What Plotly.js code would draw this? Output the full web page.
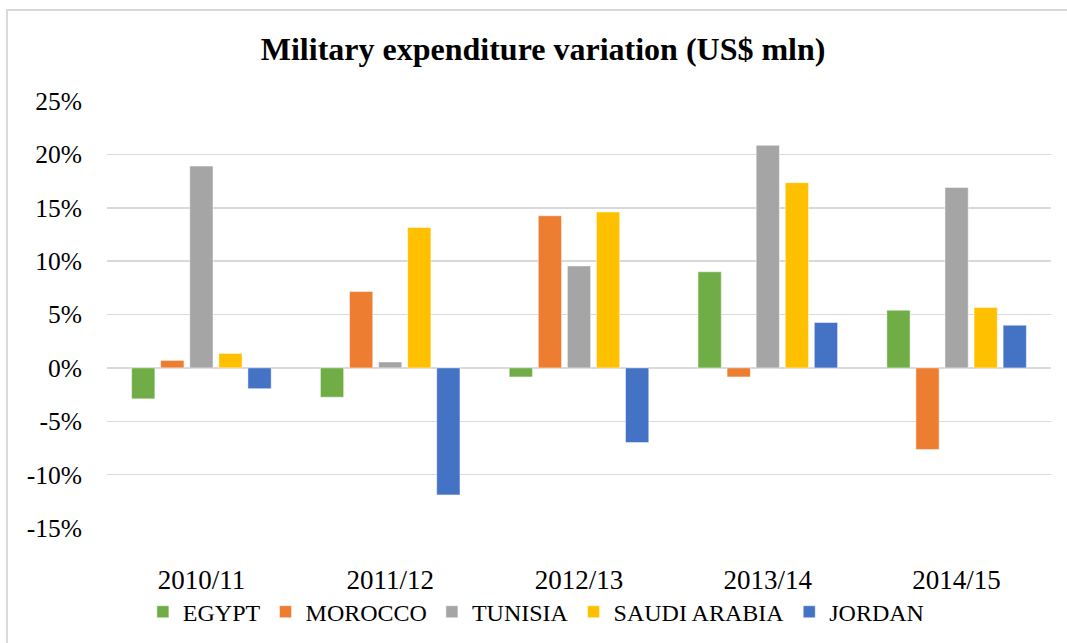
<!DOCTYPE html>
<html>
<head>
<meta charset="utf-8">
<script src="https://cdn.plot.ly/plotly-3.0.1.min.js"></script>
<style>
  html, body { margin: 0; padding: 0; background: #ffffff; }
  #chart { width: 1067px; height: 643px; }
</style>
</head>
<body>
<div id="chart"></div>
<script>
// Categories (periods)
const periods = ["2010/11", "2011/12", "2012/13", "2013/14", "2014/15"];

// Series values (percent variation)
const egypt       = [-2.9, -2.75, -0.85, 9.0, 5.4];
const morocco     = [0.7, 7.15, 14.25, -0.85, -7.65];
const tunisia     = [18.9, 0.55, 9.55, 20.85, 16.9];
const saudiArabia = [1.35, 13.15, 14.6, 17.35, 5.65];
const jordan      = [-1.95, -11.9, -7.0, 4.25, 4.0];

// Series names
const seriesNames = ["EGYPT", "MOROCCO", "TUNISIA", "SAUDI ARABIA", "JORDAN"];

// Y-axis ticks
const yTickVals = [-15, -10, -5, 0, 5, 10, 15, 20, 25];
const yTickText = ["-15%", "-10%", "-5%", "0%", "5%", "10%", "15%", "20%", "25%"];

const colors = ["#70AD47", "#ED7D31", "#A5A5A5", "#FFC000", "#4472C4"];
const seriesValues = [egypt, morocco, tunisia, saudiArabia, jordan];

const FONT = "Liberation Serif, Times New Roman, serif";

const traces = seriesValues.map((vals, i) => ({
  type: "bar",
  name: seriesNames[i],
  x: periods,
  y: vals,
  marker: { color: colors[i], line: { color: "rgba(255,255,255,0.6)", width: 0.8 } },
  hoverinfo: "x+y+name"
}));

const layout = {
  width: 1067,
  height: 643,
  paper_bgcolor: "#ffffff",
  plot_bgcolor: "#ffffff",
  margin: { l: 107, r: 16, t: 101, b: 115, autoexpand: false },
  font: { family: FONT, color: "#000000", size: 24 },
  title: {
    text: "<b>Military expenditure variation (US$ mln)</b>",
    font: { family: FONT, size: 32, color: "#000000" },
    x: 0.509, xref: "container", xanchor: "center",
    y: 0.924, yref: "container", yanchor: "middle"
  },
  barmode: "group",
  bargap: 0.23,
  bargroupgap: 0.2,
  xaxis: {
    type: "category",
    showgrid: false,
    showline: false,
    zeroline: false,
    ticks: "",
    automargin: false,
    tickfont: { family: FONT, size: 27, color: "#000000" },
    ticklabelstandoff: 33
  },
  yaxis: {
    range: [-15, 25],
    tickvals: yTickVals,
    ticktext: yTickText,
    showgrid: true,
    gridcolor: "#D9D9D9",
    gridwidth: 1.5,
    zeroline: true,
    zerolinecolor: "#D9D9D9",
    zerolinewidth: 1.5,
    showline: false,
    ticks: "",
    automargin: false,
    tickfont: { family: FONT, size: 25.5, color: "#000000" },
    ticklabelstandoff: 24
  },
  showlegend: true,
  legend: {
    orientation: "h",
    x: 0.038, xanchor: "left",
    y: -0.197, yanchor: "middle",
    bgcolor: "rgba(0,0,0,0)",
    font: { family: FONT, size: 24, color: "#000000" },
    traceorder: "normal",
    itemwidth: 30
  },
  shapes: [{
    type: "rect",
    xref: "paper", yref: "paper",
    x0: -0.106, x1: 1.03,
    y0: -0.30, y1: 1.213,
    line: { color: "#D9D9D9", width: 2 },
    fillcolor: "rgba(0,0,0,0)",
    layer: "below"
  }]
};

Plotly.newPlot("chart", traces, layout, { displayModeBar: false, staticPlot: true });
</script>
</body>
</html>
